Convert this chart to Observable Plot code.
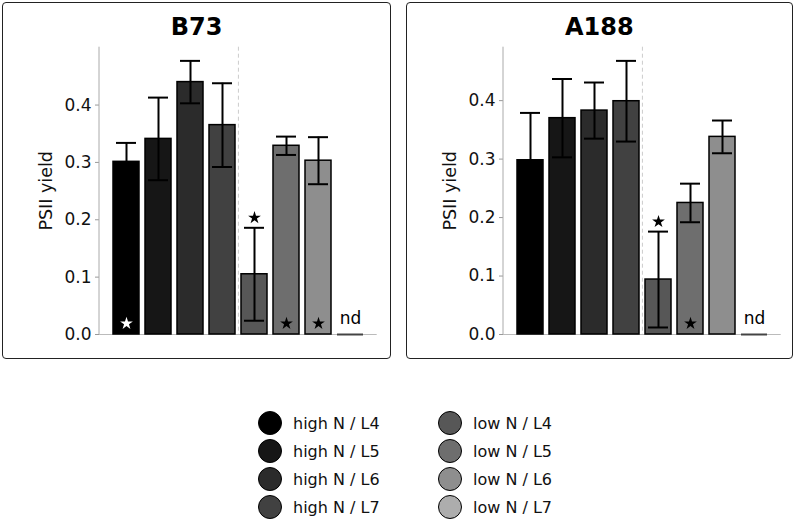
<!DOCTYPE html>
<html>
<head>
<meta charset="utf-8">
<script src="https://cdn.jsdelivr.net/npm/d3@7"></script>
<script src="https://cdn.jsdelivr.net/npm/@observablehq/plot@0.6"></script>
<style>
  html, body { margin: 0; padding: 0; background: #fff; width: 797px; height: 524px; overflow: hidden; }
  body { position: relative; font-family: "DejaVu Sans", sans-serif; }
  .panel { position: absolute; top: 0; width: 395px; height: 362px; }
  .box { position: absolute; top: 2px; height: 357px; border: 1.5px solid #222; border-radius: 4px; box-sizing: border-box; }
  .title { position: absolute; top: 15px; text-align: center; font-weight: bold; font-size: 24px; line-height: 24px; color: #000; }
  .panel svg { position: absolute; left: 0; top: 0; }
  #legend { position: absolute; left: 258px; top: 409px; display: grid; grid-template-columns: 180px 180px; grid-auto-flow: column; grid-template-rows: repeat(4, 28px); }
  .item { display: flex; align-items: center; font-size: 16px; color: #111; }
  .sw { width: 24px; height: 24px; border-radius: 50%; border: 1.5px solid #000; box-sizing: border-box; margin-right: 11px; }
</style>
</head>
<body>
<div id="left" class="panel" style="left:0px"></div>
<div id="right" class="panel" style="left:404px"></div>
<div id="legend"></div>
<script>
// ---- data ----
const groups = ["high N / L4", "high N / L5", "high N / L6", "high N / L7",
                "low N / L4", "low N / L5", "low N / L6", "low N / L7"];
const grays = ["#000000", "#161616", "#2b2b2b", "#414141", "#575757", "#6e6e6e", "#8e8e8e", "#adadad"];
const yTicks = [0, 0.1, 0.2, 0.3, 0.4];

const b73Mean = [0.301, 0.341, 0.440, 0.365, 0.105, 0.329, 0.303, 0];
const b73Err  = [0.033, 0.072, 0.037, 0.073, 0.081, 0.016, 0.041, 0];
const b73Nd   = ["low N / L7"];
const b73StarBottomWhite = ["high N / L4"];
const b73StarBottom = ["low N / L5", "low N / L6"];
const b73StarTop = ["low N / L4"];

const a188Mean = [0.298, 0.370, 0.383, 0.399, 0.094, 0.225, 0.338, 0];
const a188Err  = [0.081, 0.067, 0.048, 0.069, 0.082, 0.033, 0.028, 0];
const a188Nd   = ["low N / L7"];
const a188StarBottomWhite = [];
const a188StarBottom = ["low N / L5"];
const a188StarTop = ["low N / L4"];

// ---- layout ----
const W = 395, H = 362, ML = 99, MR = 18.3, MT = 46.7, MB = 28;
const PI = 0.19, PO = 0.41;
const step = (W - ML - MR) / (groups.length - PI + 2 * PO);

function panel(el, boxLeft, boxWidth, title, means, errs, nd, starBW, starB, starT) {
  const data = groups.map((g, i) => ({g, v: means[i], lo: means[i] - errs[i], hi: means[i] + errs[i]}));
  const bars = data.filter(d => !nd.includes(d.g));
  const ymax = d3.max(data, d => d.hi) * 1.05;
  const byG = g => data.find(d => d.g === g);

  const chart = Plot.plot({
    width: W, height: H,
    marginLeft: ML, marginRight: MR, marginTop: MT, marginBottom: MB,
    style: {fontFamily: "DejaVu Sans, sans-serif", fontSize: "17px", color: "#111", background: "transparent", overflow: "visible"},
    x: {domain: groups, paddingInner: PI, paddingOuter: PO, axis: null},
    y: {domain: [0, ymax], ticks: yTicks, tickFormat: ".1f", tickSize: 4, tickPadding: 4,
        label: "PSII yield", labelAnchor: "center", labelOffset: 60, labelArrow: "none"},
    color: {domain: groups, range: grays},
    marks: [
      Plot.ruleY([0], {stroke: "#bbb", strokeWidth: 1}),
      Plot.ruleX([groups[4]], {dx: -step / 2, stroke: "#ccc", strokeDasharray: "4,3", strokeWidth: 1}),
      Plot.barY(bars, {x: "g", y: "v", fill: "g", stroke: "#000", strokeWidth: 1.5}),
      Plot.ruleX(bars, {x: "g", y1: "lo", y2: "hi", stroke: "#000", strokeWidth: 2}),
      Plot.tickY(bars, {x: "g", y: "hi", stroke: "#000", strokeWidth: 2, inset: 3}),
      Plot.tickY(bars, {x: "g", y: "lo", stroke: "#000", strokeWidth: 2, inset: 3}),
      Plot.tickY(nd, {x: d => d, y: () => 0, stroke: "#444", strokeWidth: 2}),
      Plot.text(nd, {x: d => d, y: () => 0, text: () => "nd", dy: -11, lineAnchor: "bottom", fontSize: 17, fill: "#000"}),
      Plot.dot(starBW, {x: d => d, y: () => 0, symbol: "star", r: 4, dy: -11, fill: "#fff", stroke: "none"}),
      Plot.dot(starB, {x: d => d, y: () => 0, symbol: "star", r: 4, dy: -11, fill: "#000", stroke: "none"}),
      Plot.dot(starT, {x: d => d, y: d => byG(d).hi, symbol: "star", r: 4, dy: -10, fill: "#000", stroke: "none"})
    ]
  });

  const svg = d3.select(chart);
  svg.selectAll("g[aria-label^='y-axis'] line, g[aria-label^='y-axis tick'] path").attr("stroke", "#999");
  svg.selectAll("g[aria-label^='y-axis'] text")
    .style("font-size", "17px").style("font-family", "DejaVu Sans, sans-serif").attr("fill", "#111");
  svg.selectAll("g[aria-label^='y-axis'] text")
    .filter(function() { return this.textContent.indexOf("PSII") >= 0; })
    .style("font-size", "17.5px");
  svg.append("line")
    .attr("x1", ML).attr("x2", ML).attr("y1", MT).attr("y2", H - MB)
    .attr("stroke", "#aaa").attr("stroke-width", 1);

  const box = document.createElement("div");
  box.className = "box";
  box.style.left = boxLeft + "px";
  box.style.width = boxWidth + "px";
  el.appendChild(box);
  el.appendChild(chart);
  const t = document.createElement("div");
  t.className = "title";
  t.style.left = boxLeft + "px";
  t.style.width = boxWidth + "px";
  t.textContent = title;
  el.appendChild(t);
}

panel(document.getElementById("left"), 2, 389, "B73", b73Mean, b73Err, b73Nd, b73StarBottomWhite, b73StarBottom, b73StarTop);
panel(document.getElementById("right"), 1.5, 387.5, "A188", a188Mean, a188Err, a188Nd, a188StarBottomWhite, a188StarBottom, a188StarTop);

// ---- legend ----
const legend = document.getElementById("legend");
groups.forEach((g, i) => {
  const item = document.createElement("div");
  item.className = "item";
  const sw = document.createElement("div");
  sw.className = "sw";
  sw.style.background = grays[i];
  const lab = document.createElement("span");
  lab.textContent = g;
  item.appendChild(sw);
  item.appendChild(lab);
  legend.appendChild(item);
});
</script>
</body>
</html>
